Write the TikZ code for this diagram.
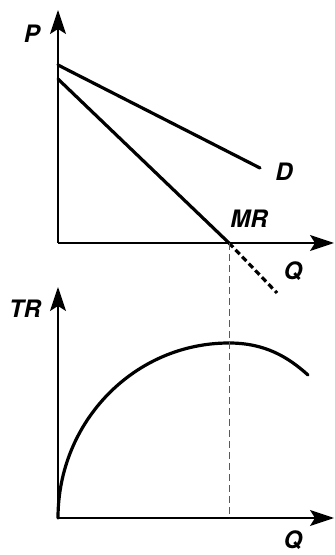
\documentclass[tikz,border=0pt]{standalone}
\usepackage{fontspec}
\setmainfont{TeX Gyre Heros}
\usetikzlibrary{arrows.meta}

\begin{document}
\begin{tikzpicture}[x=1pt, y=1pt, >={Stealth[length=24pt, width=16pt, inset=5pt]},
  curve/.style={line width=3.2pt, line cap=round},
  axis/.style={line width=1.5pt, ->},
  lbl/.style={font=\fontsize{24}{28}\selectfont\bfseries\itshape, inner sep=0pt}]
  \useasboundingbox (0,0) rectangle (335,555);
  % Top panel: P against Q
  \coordinate (O1) at (58,312);
  \coordinate (Ptop) at (58,545);
  \coordinate (Q1end) at (334,312);
  \coordinate (Dstart) at (58,490);
  \coordinate (Dend) at (260,387);
  \coordinate (MRstart) at (58,476);
  \coordinate (MRzero) at (229,312);
  \coordinate (MRend) at (277,262);
  % Bottom panel: TR against Q
  \coordinate (O2) at (58,37);
  \coordinate (TRtop) at (58,268);
  \coordinate (Q2end) at (334,37);
  \coordinate (TRpeak) at (229,212);
  \coordinate (TRend) at (308,180);
  \coordinate (TRfoot) at (229,37);
  % Axes
  \draw[axis] (O1) -- (Ptop);
  \draw[axis] (O1) -- (Q1end);
  \draw[axis] (O2) -- (TRtop);
  \draw[axis] (O2) -- (Q2end);
  % Demand and marginal revenue
  \draw[curve] (Dstart) -- (Dend);
  \draw[curve] (MRstart) -- (MRzero);
  \draw[curve, line cap=butt, dash pattern=on 6pt off 3.5pt] (MRzero) -- (MRend);
  % Total revenue
  \draw[curve] (O2) arc[start angle=180, end angle=90, x radius=171, y radius=175]
    .. controls (265,212) and (288,198) .. (TRend);
  % Guide from MR = 0 down to TR max
  \draw[gray!70!black, line width=0.9pt, dash pattern=on 7pt off 4pt] (MRzero) -- (TRfoot);
  % Labels
  \node[lbl] (Plab) at (32,521) {P};
  \node[lbl] (Dlab) at (284,383) {D};
  \node[lbl] (MRlab) at (249,336) {MR};
  \node[lbl] (Q1lab) at (293,284) {Q};
  \node[lbl] (TRlab) at (25,246) {TR};
  \node[lbl] (Q2lab) at (293,15) {Q};
\end{tikzpicture}
\end{document}
